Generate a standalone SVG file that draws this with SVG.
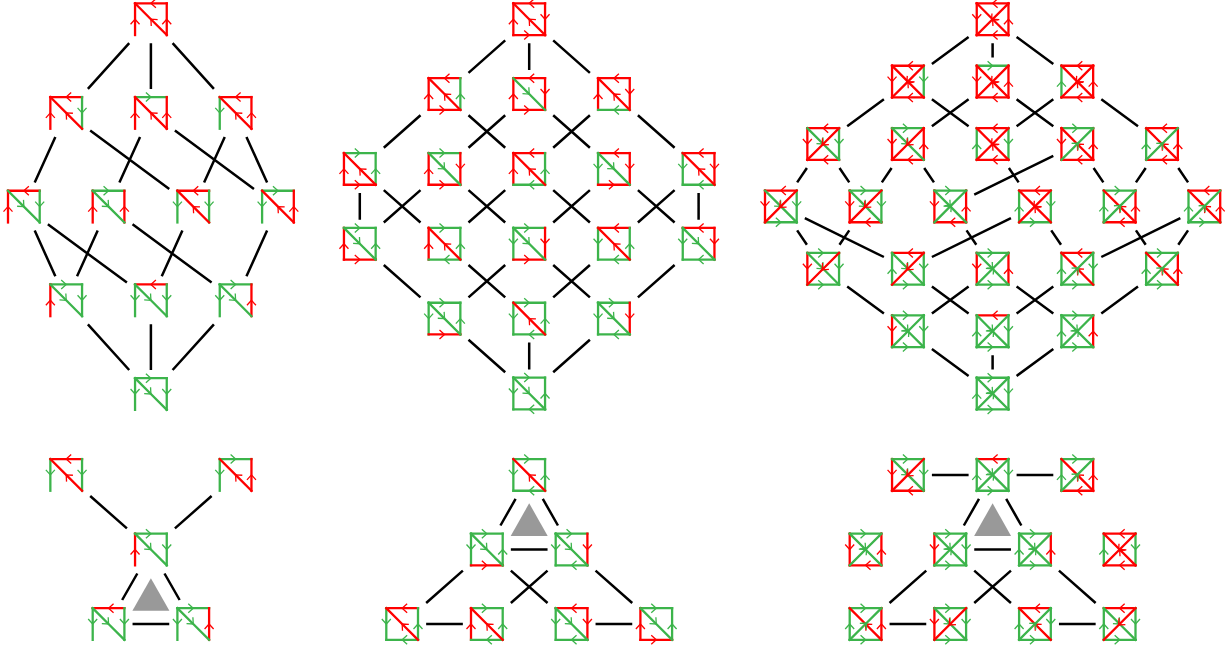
<svg xmlns="http://www.w3.org/2000/svg" width="1229" height="650" viewBox="0 0 1229 650">
<style>
path.c{fill:none;stroke:#000;stroke-width:2.5}
.r{stroke:#f00;marker-mid:url(#mr)}
.g{stroke:#3cb44b;marker-mid:url(#mg)}
.e{fill:none;stroke-width:2.3;stroke-linecap:square}
.h{fill:none;stroke-width:1.3}
.t{fill:#999}
</style>
<defs>
<marker id="mr" markerUnits="userSpaceOnUse" markerWidth="14" markerHeight="14" refX="7" refY="7" orient="auto" overflow="visible"><path class="h" stroke="#f00" d="M2 2.5L7 7L2 11.5"/></marker>
<marker id="mg" markerUnits="userSpaceOnUse" markerWidth="14" markerHeight="14" refX="7" refY="7" orient="auto" overflow="visible"><path class="h" stroke="#3cb44b" d="M2 2.5L7 7L2 11.5"/></marker>
<path id="tw" class="e" d="M15.85-15.85L0-15.85L-15.85-15.85"/>
<path id="te" class="e" d="M-15.85-15.85L0-15.85L15.85-15.85"/>
<path id="ln" class="e" d="M-15.85 15.85L-15.85 0L-15.85-15.85"/>
<path id="ls" class="e" d="M-15.85-15.85L-15.85 0L-15.85 15.85"/>
<path id="rn" class="e" d="M15.85 15.85L15.85 0L15.85-15.85"/>
<path id="rs" class="e" d="M15.85-15.85L15.85 0L15.85 15.85"/>
<path id="be" class="e" d="M-15.85 15.85L0 15.85L15.85 15.85"/>
<path id="bw" class="e" d="M15.85 15.85L0 15.85L-15.85 15.85"/>
<path id="dnw" class="e" d="M15.85 15.85L0 0L-15.85-15.85"/>
<path id="dse" class="e" d="M-15.85-15.85L0 0L15.85 15.85"/>
<path id="dsw" class="e" d="M15.85-15.85L-1 1L-15.85 15.85"/>
<path id="dne" class="e" d="M-15.85 15.85L1-1L15.85-15.85"/>
</defs>
<g id="connectors">
<path class="c" d="M129.2 43.2L87.9 88.9M150.9 43.2L150.9 88.9M172.6 43.2L213.9 88.9"/>
<path class="c" d="M55.35 136.9L34.7 182.6M90.2 130.6L169.25 188.9M140.05 136.9L119.4 182.6M174.9 130.6L253.95 188.9M224.75 136.9L204.1 182.6M246.45 136.9L267.1 182.6"/>
<path class="c" d="M34.7 230.6L55.35 276.3M47.85 224.3L126.9 282.6M97.7 230.6L77.05 276.3M132.55 224.3L211.6 282.6M182.4 230.6L161.75 276.3M267.1 230.6L246.45 276.3"/>
<path class="c" d="M87.9 324.3L129.2 370M150.9 324.3L150.9 370M213.9 324.3L172.6 370"/>
<path class="c" d="M505.2 40.4L468.5 72.85M529.2 43.2L529.2 70.05M553.2 40.4L589.9 72.85"/>
<path class="c" d="M420.5 115.25L383.8 147.7M468.5 115.25L505.2 147.7M505.2 115.25L468.5 147.7M553.2 115.25L589.9 147.7M589.9 115.25L553.2 147.7M637.9 115.25L674.6 147.7"/>
<path class="c" d="M359.8 192.9L359.8 219.75M383.8 190.1L420.5 222.55M420.5 190.1L383.8 222.55M468.5 190.1L505.2 222.55M505.2 190.1L468.5 222.55M553.2 190.1L589.9 222.55M589.9 190.1L553.2 222.55M637.9 190.1L674.6 222.55M674.6 190.1L637.9 222.55M698.6 192.9L698.6 219.75"/>
<path class="c" d="M383.8 264.95L420.5 297.4M468.5 264.95L505.2 297.4M505.2 264.95L468.5 297.4M553.2 264.95L589.9 297.4M589.9 264.95L553.2 297.4M674.6 264.95L637.9 297.4"/>
<path class="c" d="M468.5 339.8L505.2 372.25M529.2 342.6L529.2 369.45M589.9 339.8L553.2 372.25"/>
<path class="c" d="M968.6 36.9L931.9 63.9M992.6 43.2L992.6 57.6M1016.6 36.9L1053.3 63.9"/>
<path class="c" d="M883.9 99.3L847.2 126.3M931.9 99.3L968.6 126.3M968.6 99.3L931.9 126.3M1016.6 99.3L1053.3 126.3M1053.3 99.3L1016.6 126.3M1101.3 99.3L1138 126.3"/>
<path class="c" d="M806.9 168L797.15 182.4M839.5 168L849.25 182.4M891.6 168L881.85 182.4M924.2 168L933.95 182.4M1008.9 168L1018.65 182.4M1093.6 168L1103.35 182.4M1145.7 168L1135.95 182.4M1178.3 168L1188.05 182.4M1053.3 155.8L974.25 194.6"/>
<path class="c" d="M797.15 230.4L806.9 244.8M849.25 230.4L839.5 244.8M966.55 230.4L976.3 244.8M1051.25 230.4L1061 244.8M1135.95 230.4L1145.7 244.8M1188.05 230.4L1178.3 244.8M804.85 218.2L883.9 257M1010.95 218.2L931.9 257M1180.35 218.2L1101.3 257"/>
<path class="c" d="M847.2 286.5L883.9 313.5M931.9 286.5L968.6 313.5M968.6 286.5L931.9 313.5M1016.6 286.5L1053.3 313.5M1053.3 286.5L1016.6 313.5M1138 286.5L1101.3 313.5"/>
<path class="c" d="M931.9 348.9L968.6 375.9M992.6 355.2L992.6 369.6M1053.3 348.9L1016.6 375.9"/>
<path class="c" d="M90.2 496L126.9 528.4M211.6 496L174.9 528.4M137.3 573.5L122.15 600M164.5 573.5L179.65 600M132.55 624L169.25 624"/>
<path class="c" d="M515.6 498.9L500.45 525.5M542.8 498.9L557.95 525.5M510.85 549.5L547.55 549.5M462.85 570.6L426.15 603M510.85 570.6L547.55 603M547.55 570.6L510.85 603M595.55 570.6L632.25 603M426.15 624L462.85 624M595.55 624L632.25 624"/>
<path class="c" d="M931.9 474.9L968.6 474.9M1016.6 474.9L1053.3 474.9M979 498.9L963.85 525.5M1006.2 498.9L1021.35 525.5M974.25 549.5L1010.95 549.5M926.25 570.6L889.55 603M974.25 570.6L1010.95 603M1010.95 570.6L974.25 603M1058.95 570.6L1095.65 603M889.55 624L926.25 624M1058.95 624L1095.65 624"/>
</g>
<path class="t" d="M150.9 578.3L169.4 610.7L132.4 610.7Z"/>
<path class="t" d="M529.2 503.3L547.7 536L510.7 536Z"/>
<path class="t" d="M992.6 503.3L1011.1 536L974.1 536Z"/>

<g id="a1" transform="translate(150.9 19.2)"><use href="#tw" class="r"/><use href="#ln" class="r"/><use href="#rn" class="r"/><use href="#dnw" class="r"/></g>
<g id="a2" transform="translate(66.2 112.9)"><use href="#tw" class="r"/><use href="#ln" class="r"/><use href="#rs" class="g"/><use href="#dnw" class="r"/></g>
<g id="a3" transform="translate(150.9 112.9)"><use href="#te" class="g"/><use href="#ln" class="r"/><use href="#rn" class="r"/><use href="#dnw" class="r"/></g>
<g id="a4" transform="translate(235.6 112.9)"><use href="#tw" class="r"/><use href="#ls" class="g"/><use href="#rn" class="r"/><use href="#dnw" class="r"/></g>
<g id="a5" transform="translate(23.85 206.6)"><use href="#tw" class="r"/><use href="#ln" class="r"/><use href="#rs" class="g"/><use href="#dse" class="g"/></g>
<g id="a6" transform="translate(108.55 206.6)"><use href="#te" class="g"/><use href="#ln" class="r"/><use href="#rn" class="r"/><use href="#dse" class="g"/></g>
<g id="a7" transform="translate(193.25 206.6)"><use href="#tw" class="r"/><use href="#ls" class="g"/><use href="#rs" class="g"/><use href="#dnw" class="r"/></g>
<g id="a8" transform="translate(277.95 206.6)"><use href="#te" class="g"/><use href="#ls" class="g"/><use href="#rn" class="r"/><use href="#dnw" class="r"/></g>
<g id="a9" transform="translate(66.2 300.3)"><use href="#te" class="g"/><use href="#ln" class="r"/><use href="#rs" class="g"/><use href="#dse" class="g"/></g>
<g id="a10" transform="translate(150.9 300.3)"><use href="#tw" class="r"/><use href="#ls" class="g"/><use href="#rs" class="g"/><use href="#dse" class="g"/></g>
<g id="a11" transform="translate(235.6 300.3)"><use href="#te" class="g"/><use href="#ls" class="g"/><use href="#rn" class="r"/><use href="#dse" class="g"/></g>
<g id="a12" transform="translate(150.9 394)"><use href="#te" class="g"/><use href="#ls" class="g"/><use href="#rs" class="g"/><use href="#dse" class="g"/></g>

<g id="d1" transform="translate(66.2 474.9)"><use href="#tw" class="r"/><use href="#ls" class="g"/><use href="#rs" class="g"/><use href="#dnw" class="r"/></g>
<g id="d2" transform="translate(235.6 474.9)"><use href="#te" class="g"/><use href="#ls" class="g"/><use href="#rn" class="r"/><use href="#dnw" class="r"/></g>
<g id="d3" transform="translate(150.9 549.5)"><use href="#te" class="g"/><use href="#ln" class="r"/><use href="#rs" class="g"/><use href="#dse" class="g"/></g>
<g id="d4" transform="translate(108.55 624)"><use href="#tw" class="r"/><use href="#ls" class="g"/><use href="#rs" class="g"/><use href="#dse" class="g"/></g>
<g id="d5" transform="translate(193.25 624)"><use href="#te" class="g"/><use href="#ls" class="g"/><use href="#rn" class="r"/><use href="#dse" class="g"/></g>

<g id="b1" transform="translate(529.2 19.2)"><use href="#tw" class="r"/><use href="#ln" class="r"/><use href="#rs" class="r"/><use href="#be" class="r"/><use href="#dnw" class="r"/></g>
<g id="b2" transform="translate(444.5 94.05)"><use href="#tw" class="r"/><use href="#ln" class="r"/><use href="#rn" class="g"/><use href="#be" class="r"/><use href="#dnw" class="r"/></g>
<g id="b3" transform="translate(529.2 94.05)"><use href="#tw" class="r"/><use href="#ln" class="r"/><use href="#rs" class="r"/><use href="#be" class="r"/><use href="#dse" class="g"/></g>
<g id="b4" transform="translate(613.9 94.05)"><use href="#tw" class="r"/><use href="#ln" class="r"/><use href="#rs" class="r"/><use href="#bw" class="g"/><use href="#dnw" class="r"/></g>
<g id="b5" transform="translate(359.8 168.9)"><use href="#te" class="g"/><use href="#ln" class="r"/><use href="#rn" class="g"/><use href="#be" class="r"/><use href="#dnw" class="r"/></g>
<g id="b6" transform="translate(444.5 168.9)"><use href="#te" class="g"/><use href="#ln" class="r"/><use href="#rs" class="r"/><use href="#be" class="r"/><use href="#dse" class="g"/></g>
<g id="b7" transform="translate(529.2 168.9)"><use href="#tw" class="r"/><use href="#ln" class="r"/><use href="#rn" class="g"/><use href="#bw" class="g"/><use href="#dnw" class="r"/></g>
<g id="b8" transform="translate(613.9 168.9)"><use href="#tw" class="r"/><use href="#ls" class="g"/><use href="#rs" class="r"/><use href="#be" class="r"/><use href="#dse" class="g"/></g>
<g id="b9" transform="translate(698.6 168.9)"><use href="#tw" class="r"/><use href="#ls" class="g"/><use href="#rs" class="r"/><use href="#bw" class="g"/><use href="#dnw" class="r"/></g>
<g id="b10" transform="translate(359.8 243.75)"><use href="#te" class="g"/><use href="#ln" class="r"/><use href="#rn" class="g"/><use href="#be" class="r"/><use href="#dse" class="g"/></g>
<g id="b11" transform="translate(444.5 243.75)"><use href="#te" class="g"/><use href="#ln" class="r"/><use href="#rn" class="g"/><use href="#bw" class="g"/><use href="#dnw" class="r"/></g>
<g id="b12" transform="translate(529.2 243.75)"><use href="#te" class="g"/><use href="#ls" class="g"/><use href="#rs" class="r"/><use href="#be" class="r"/><use href="#dse" class="g"/></g>
<g id="b13" transform="translate(613.9 243.75)"><use href="#tw" class="r"/><use href="#ls" class="g"/><use href="#rn" class="g"/><use href="#bw" class="g"/><use href="#dnw" class="r"/></g>
<g id="b14" transform="translate(698.6 243.75)"><use href="#tw" class="r"/><use href="#ls" class="g"/><use href="#rs" class="r"/><use href="#bw" class="g"/><use href="#dse" class="g"/></g>
<g id="b15" transform="translate(444.5 318.6)"><use href="#te" class="g"/><use href="#ls" class="g"/><use href="#rn" class="g"/><use href="#be" class="r"/><use href="#dse" class="g"/></g>
<g id="b16" transform="translate(529.2 318.6)"><use href="#te" class="g"/><use href="#ls" class="g"/><use href="#rn" class="g"/><use href="#bw" class="g"/><use href="#dnw" class="r"/></g>
<g id="b17" transform="translate(613.9 318.6)"><use href="#te" class="g"/><use href="#ls" class="g"/><use href="#rs" class="r"/><use href="#bw" class="g"/><use href="#dse" class="g"/></g>
<g id="b18" transform="translate(529.2 393.45)"><use href="#te" class="g"/><use href="#ls" class="g"/><use href="#rn" class="g"/><use href="#bw" class="g"/><use href="#dse" class="g"/></g>

<g id="e1" transform="translate(529.2 474.9)"><use href="#te" class="g"/><use href="#ls" class="g"/><use href="#rn" class="g"/><use href="#bw" class="g"/><use href="#dnw" class="r"/></g>
<g id="e2" transform="translate(486.85 549.5)"><use href="#te" class="g"/><use href="#ls" class="g"/><use href="#rn" class="g"/><use href="#be" class="r"/><use href="#dse" class="g"/></g>
<g id="e3" transform="translate(571.55 549.5)"><use href="#te" class="g"/><use href="#ls" class="g"/><use href="#rs" class="r"/><use href="#bw" class="g"/><use href="#dse" class="g"/></g>
<g id="e4" transform="translate(402.15 624)"><use href="#tw" class="r"/><use href="#ls" class="g"/><use href="#rn" class="g"/><use href="#bw" class="g"/><use href="#dnw" class="r"/></g>
<g id="e5" transform="translate(486.85 624)"><use href="#te" class="g"/><use href="#ln" class="r"/><use href="#rn" class="g"/><use href="#bw" class="g"/><use href="#dnw" class="r"/></g>
<g id="e6" transform="translate(571.55 624)"><use href="#tw" class="r"/><use href="#ls" class="g"/><use href="#rs" class="r"/><use href="#bw" class="g"/><use href="#dse" class="g"/></g>
<g id="e7" transform="translate(656.25 624)"><use href="#te" class="g"/><use href="#ln" class="r"/><use href="#rn" class="g"/><use href="#be" class="r"/><use href="#dse" class="g"/></g>

<g id="c1" transform="translate(992.6 19.2)"><use href="#tw" class="r"/><use href="#ls" class="r"/><use href="#rn" class="r"/><use href="#bw" class="r"/><use href="#dnw" class="r"/><use href="#dsw" class="r"/></g>
<g id="c2" transform="translate(907.9 81.6)"><use href="#tw" class="r"/><use href="#ls" class="r"/><use href="#rs" class="g"/><use href="#bw" class="r"/><use href="#dnw" class="r"/><use href="#dsw" class="r"/></g>
<g id="c3" transform="translate(992.6 81.6)"><use href="#te" class="g"/><use href="#ls" class="r"/><use href="#rn" class="r"/><use href="#bw" class="r"/><use href="#dnw" class="r"/><use href="#dsw" class="r"/></g>
<g id="c4" transform="translate(1077.3 81.6)"><use href="#tw" class="r"/><use href="#ln" class="g"/><use href="#rn" class="r"/><use href="#bw" class="r"/><use href="#dnw" class="r"/><use href="#dsw" class="r"/></g>
<g id="c5" transform="translate(823.2 144)"><use href="#tw" class="r"/><use href="#ls" class="r"/><use href="#rs" class="g"/><use href="#bw" class="r"/><use href="#dse" class="g"/><use href="#dsw" class="r"/></g>
<g id="c6" transform="translate(907.9 144)"><use href="#te" class="g"/><use href="#ls" class="r"/><use href="#rn" class="r"/><use href="#bw" class="r"/><use href="#dse" class="g"/><use href="#dsw" class="r"/></g>
<g id="c7" transform="translate(992.6 144)"><use href="#tw" class="r"/><use href="#ln" class="g"/><use href="#rs" class="g"/><use href="#bw" class="r"/><use href="#dnw" class="r"/><use href="#dsw" class="r"/></g>
<g id="c8" transform="translate(1077.3 144)"><use href="#te" class="g"/><use href="#ls" class="r"/><use href="#rn" class="r"/><use href="#bw" class="r"/><use href="#dnw" class="r"/><use href="#dne" class="g"/></g>
<g id="c9" transform="translate(1162 144)"><use href="#tw" class="r"/><use href="#ln" class="g"/><use href="#rn" class="r"/><use href="#bw" class="r"/><use href="#dnw" class="r"/><use href="#dne" class="g"/></g>
<g id="c10" transform="translate(780.85 206.4)"><use href="#tw" class="r"/><use href="#ls" class="r"/><use href="#rs" class="g"/><use href="#be" class="g"/><use href="#dse" class="g"/><use href="#dsw" class="r"/></g>
<g id="c11" transform="translate(865.55 206.4)"><use href="#te" class="g"/><use href="#ls" class="r"/><use href="#rs" class="g"/><use href="#bw" class="r"/><use href="#dse" class="g"/><use href="#dsw" class="r"/></g>
<g id="c12" transform="translate(950.25 206.4)"><use href="#te" class="g"/><use href="#ls" class="r"/><use href="#rn" class="r"/><use href="#bw" class="r"/><use href="#dse" class="g"/><use href="#dne" class="g"/></g>
<g id="c13" transform="translate(1034.95 206.4)"><use href="#tw" class="r"/><use href="#ln" class="g"/><use href="#rs" class="g"/><use href="#be" class="g"/><use href="#dnw" class="r"/><use href="#dsw" class="r"/></g>
<g id="c14" transform="translate(1119.65 206.4)"><use href="#te" class="g"/><use href="#ln" class="g"/><use href="#rn" class="r"/><use href="#bw" class="r"/><use href="#dnw" class="r"/><use href="#dne" class="g"/></g>
<g id="c15" transform="translate(1204.35 206.4)"><use href="#tw" class="r"/><use href="#ln" class="g"/><use href="#rn" class="r"/><use href="#be" class="g"/><use href="#dnw" class="r"/><use href="#dne" class="g"/></g>
<g id="c16" transform="translate(823.2 268.8)"><use href="#te" class="g"/><use href="#ls" class="r"/><use href="#rs" class="g"/><use href="#be" class="g"/><use href="#dse" class="g"/><use href="#dsw" class="r"/></g>
<g id="c17" transform="translate(907.9 268.8)"><use href="#tw" class="r"/><use href="#ln" class="g"/><use href="#rs" class="g"/><use href="#be" class="g"/><use href="#dse" class="g"/><use href="#dsw" class="r"/></g>
<g id="c18" transform="translate(992.6 268.8)"><use href="#te" class="g"/><use href="#ls" class="r"/><use href="#rn" class="r"/><use href="#be" class="g"/><use href="#dse" class="g"/><use href="#dne" class="g"/></g>
<g id="c19" transform="translate(1077.3 268.8)"><use href="#tw" class="r"/><use href="#ln" class="g"/><use href="#rs" class="g"/><use href="#be" class="g"/><use href="#dnw" class="r"/><use href="#dne" class="g"/></g>
<g id="c20" transform="translate(1162 268.8)"><use href="#te" class="g"/><use href="#ln" class="g"/><use href="#rn" class="r"/><use href="#be" class="g"/><use href="#dnw" class="r"/><use href="#dne" class="g"/></g>
<g id="c21" transform="translate(907.9 331.2)"><use href="#te" class="g"/><use href="#ls" class="r"/><use href="#rs" class="g"/><use href="#be" class="g"/><use href="#dse" class="g"/><use href="#dne" class="g"/></g>
<g id="c22" transform="translate(992.6 331.2)"><use href="#tw" class="r"/><use href="#ln" class="g"/><use href="#rs" class="g"/><use href="#be" class="g"/><use href="#dse" class="g"/><use href="#dne" class="g"/></g>
<g id="c23" transform="translate(1077.3 331.2)"><use href="#te" class="g"/><use href="#ln" class="g"/><use href="#rn" class="r"/><use href="#be" class="g"/><use href="#dse" class="g"/><use href="#dne" class="g"/></g>
<g id="c24" transform="translate(992.6 393.6)"><use href="#te" class="g"/><use href="#ln" class="g"/><use href="#rs" class="g"/><use href="#be" class="g"/><use href="#dse" class="g"/><use href="#dne" class="g"/></g>

<g id="f1" transform="translate(907.9 474.9)"><use href="#te" class="g"/><use href="#ls" class="r"/><use href="#rs" class="g"/><use href="#bw" class="r"/><use href="#dse" class="g"/><use href="#dsw" class="r"/></g>
<g id="f2" transform="translate(992.6 474.9)"><use href="#tw" class="r"/><use href="#ln" class="g"/><use href="#rs" class="g"/><use href="#be" class="g"/><use href="#dse" class="g"/><use href="#dne" class="g"/></g>
<g id="f3" transform="translate(1077.3 474.9)"><use href="#te" class="g"/><use href="#ln" class="g"/><use href="#rn" class="r"/><use href="#bw" class="r"/><use href="#dnw" class="r"/><use href="#dne" class="g"/></g>
<g id="f4" transform="translate(865.55 549.5)"><use href="#te" class="g"/><use href="#ls" class="r"/><use href="#rn" class="r"/><use href="#bw" class="r"/><use href="#dse" class="g"/><use href="#dne" class="g"/></g>
<g id="f5" transform="translate(950.25 549.5)"><use href="#te" class="g"/><use href="#ls" class="r"/><use href="#rs" class="g"/><use href="#be" class="g"/><use href="#dse" class="g"/><use href="#dne" class="g"/></g>
<g id="f6" transform="translate(1034.95 549.5)"><use href="#te" class="g"/><use href="#ln" class="g"/><use href="#rn" class="r"/><use href="#be" class="g"/><use href="#dse" class="g"/><use href="#dne" class="g"/></g>
<g id="f7" transform="translate(1119.65 549.5)"><use href="#tw" class="r"/><use href="#ln" class="g"/><use href="#rs" class="g"/><use href="#bw" class="r"/><use href="#dnw" class="r"/><use href="#dsw" class="r"/></g>
<g id="f8" transform="translate(865.55 624)"><use href="#te" class="g"/><use href="#ln" class="g"/><use href="#rn" class="r"/><use href="#be" class="g"/><use href="#dnw" class="r"/><use href="#dne" class="g"/></g>
<g id="f9" transform="translate(950.25 624)"><use href="#te" class="g"/><use href="#ls" class="r"/><use href="#rs" class="g"/><use href="#be" class="g"/><use href="#dse" class="g"/><use href="#dsw" class="r"/></g>
<g id="f10" transform="translate(1034.95 624)"><use href="#tw" class="r"/><use href="#ln" class="g"/><use href="#rs" class="g"/><use href="#be" class="g"/><use href="#dnw" class="r"/><use href="#dne" class="g"/></g>
<g id="f11" transform="translate(1119.65 624)"><use href="#tw" class="r"/><use href="#ln" class="g"/><use href="#rs" class="g"/><use href="#be" class="g"/><use href="#dse" class="g"/><use href="#dsw" class="r"/></g>
</svg>
